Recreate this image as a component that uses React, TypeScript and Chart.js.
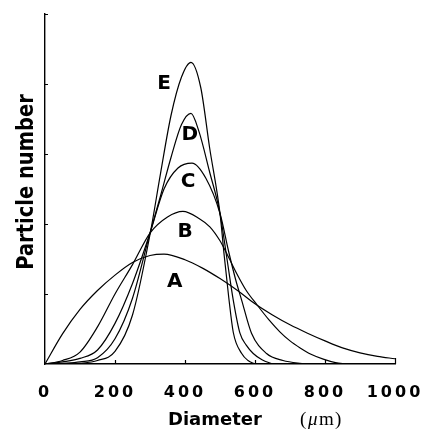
import { useEffect, useRef } from "react";
import { Chart, registerables } from "chart.js";

Chart.register(...registerables);

// Tick values
const xTickValues = [0, 200, 400, 600, 800, 1000];
const yTickValues = [0, 1, 2, 3, 4, 5];

// Curve names
const curveNames = ["A", "B", "C", "D", "E"];

// Curve A
const aX = [0, 50, 100, 150, 200, 250, 300, 340, 400, 450, 500, 550, 600, 650, 700, 750, 800, 850, 900, 950, 1000];
const aY = [0, 0.43, 0.78, 1.05, 1.27, 1.45, 1.55, 1.57, 1.49, 1.37, 1.22, 1.05, 0.86, 0.7, 0.56, 0.44, 0.33, 0.23, 0.16, 0.11, 0.075];

// Curve B
const bX = [0, 50, 100, 150, 200, 250, 300, 350, 394, 440, 471, 500, 525, 548, 575, 605, 640, 671, 700, 729, 760, 795, 830, 860];
const bY = [0, 0.05, 0.17, 0.53, 1.0, 1.42, 1.87, 2.1, 2.18, 2.08, 1.96, 1.76, 1.52, 1.29, 1.05, 0.85, 0.63, 0.46, 0.33, 0.23, 0.14, 0.07, 0.02, 0];

// Curve C
const cX = [0, 50, 100, 150, 200, 250, 300, 340, 380, 420, 460, 500, 525, 545, 562, 590, 633, 680, 743];
const cY = [0, 0.03, 0.08, 0.2, 0.58, 1.15, 1.87, 2.5, 2.8, 2.87, 2.65, 2.15, 1.6, 1.2, 0.91, 0.44, 0.15, 0.05, 0];

// Curve D
const dX = [0, 50, 100, 150, 200, 250, 300, 330, 360, 390, 417, 440, 470, 500, 520, 538, 557, 575, 595, 620, 651];
const dY = [0, 0.01, 0.03, 0.09, 0.36, 0.94, 1.87, 2.4, 2.95, 3.42, 3.58, 3.32, 2.75, 2.15, 1.5, 0.91, 0.44, 0.27, 0.15, 0.06, 0];

// Curve E
const eX = [0, 50, 100, 150, 200, 250, 300, 330, 360, 390, 417, 445, 470, 500, 512, 525, 538, 562, 580, 600];
const eY = [0, 0, 0.01, 0.05, 0.18, 0.7, 1.85, 2.72, 3.55, 4.1, 4.31, 3.95, 3.1, 2.15, 1.55, 0.95, 0.45, 0.15, 0.05, 0];

// Where each curve's letter sits, in data units
const letterAtX = [371, 400, 409, 414, 340];
const letterAtY = [1.17, 1.89, 2.6, 3.27, 4.01];

const seriesX = [aX, bX, cX, dX, eX];
const seriesY = [aY, bY, cY, dY, eY];

const overlay = {
  id: "overlay",
  beforeDraw(chart: any) {
    (chart.ctx as any).letterSpacing = "3px";
  },
  afterDraw(chart: any) {
    const ctx = chart.ctx as any;
    ctx.save();
    ctx.letterSpacing = "0px";
    const xs = chart.scales.x;
    const ys = chart.scales.y;
    const area = chart.chartArea;
    // inward tick marks
    ctx.strokeStyle = "#000";
    ctx.lineWidth = 1.2;
    ctx.beginPath();
    for (const v of yTickValues) {
      if (v === 0) continue;
      const py = Math.round(ys.getPixelForValue(v)) + 0.5;
      ctx.moveTo(area.left, py);
      ctx.lineTo(area.left + 3, py);
    }
    for (const v of xTickValues) {
      if (v === 0) continue;
      const px = Math.round(xs.getPixelForValue(v)) + 0.5;
      ctx.moveTo(px, area.bottom);
      ctx.lineTo(px, area.bottom - (v === 1000 ? 6 : 4));
    }
    ctx.stroke();

    // curve letters
    ctx.fillStyle = "#000";
    ctx.font = "bold 20px 'DejaVu Sans'";
    ctx.textAlign = "center";
    ctx.textBaseline = "middle";
    curveNames.forEach((n, i) => {
      ctx.fillText(n, xs.getPixelForValue(letterAtX[i]), ys.getPixelForValue(letterAtY[i]));
    });

    // y axis title
    ctx.save();
    ctx.translate(33, 182);
    ctx.rotate(-Math.PI / 2);
    ctx.scale(1, 1.2);
    ctx.font = "bold 19.5px 'DejaVu Sans'";
    ctx.textAlign = "center";
    ctx.textBaseline = "alphabetic";
    ctx.fillText("Particle number", 0, 0);
    ctx.restore();

    // x axis title
    ctx.textAlign = "left";
    ctx.textBaseline = "alphabetic";
    ctx.font = "bold 18px 'DejaVu Sans'";
    ctx.fillText("Diameter", 168, 425);
    ctx.font = "19px 'Liberation Serif'";
    ctx.fillText("(", 300, 425);
    ctx.font = "italic 19px 'Liberation Serif'";
    ctx.fillText("\u03bc", 308, 425);
    ctx.font = "19px 'Liberation Serif'";
    ctx.fillText("m", 319, 425);
    ctx.fillText(")", 335, 425);
    ctx.restore();
  },
};

export default function App() {
  const ref = useRef<HTMLCanvasElement | null>(null);
  useEffect(() => {
    if (!ref.current) return;
    const chart = new Chart(ref.current, {
      type: "line",
      data: {
        datasets: curveNames.map((n, i) => ({
          label: n,
          data: seriesX[i].map((x, j) => ({ x, y: seriesY[i][j] })),
          borderColor: "#000",
          borderWidth: 1.2,
          pointRadius: 0,
          cubicInterpolationMode: "monotone" as const,
          fill: false,
        })),
      },
      options: {
        animation: false,
        responsive: false,
        layout: { padding: { top: 14, right: 35, left: 0, bottom: 0 } },
        plugins: {
          legend: { display: false },
          tooltip: { enabled: false },
          title: { display: false },
        },
        scales: {
          x: {
            type: "linear",
            min: 0,
            max: 1000,
            afterBuildTicks: (s: any) => {
              s.ticks = xTickValues.map((v) => ({ value: v }));
            },
            ticks: {
              color: "#000",
              font: { family: "'DejaVu Sans'", weight: "bold", size: 16 },
              padding: 19,
              maxRotation: 0,
              autoSkip: false,
              callback: (v: any) => String(v),
            },
            grid: { display: false, drawTicks: false },
            border: { color: "#000", width: 1.4 },
            afterFit: (s: any) => {
              s.height = 77;
              s.paddingLeft = 0;
              s.paddingRight = 0;
            },
          },
          y: {
            type: "linear",
            min: 0,
            max: 5,
            afterBuildTicks: (s: any) => {
              s.ticks = yTickValues.map((v) => ({ value: v }));
            },
            ticks: { display: false },
            grid: { display: false, drawTicks: false },
            border: { color: "#000", width: 1.4 },
            afterFit: (s: any) => {
              s.width = 45;
              s.paddingTop = 0;
              s.paddingBottom = 0;
            },
          },
        },
      },
      plugins: [overlay],
    });
    return () => chart.destroy();
  }, []);
  return (
    <div style={{ position: "fixed", left: 0, top: 0, width: 430, height: 441, background: "#fff" }}>
      <canvas ref={ref} width={430} height={441} />
    </div>
  );
}
